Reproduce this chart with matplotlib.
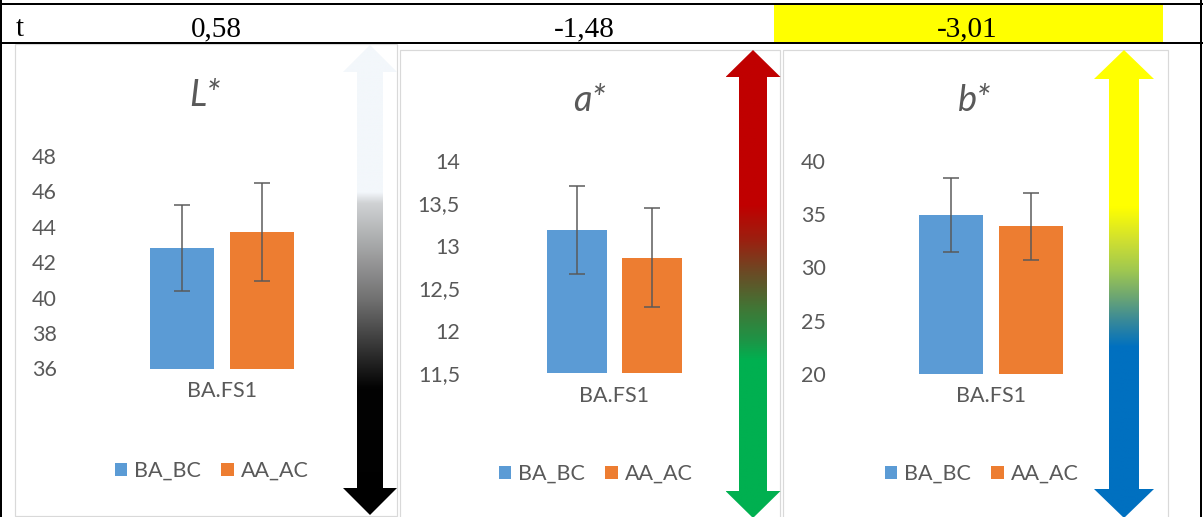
import numpy as np
import matplotlib
matplotlib.use("Agg")
import matplotlib.pyplot as plt
from matplotlib.patches import Polygon, Rectangle
from matplotlib.ticker import FuncFormatter
from matplotlib.colors import to_rgb

# ---- data -------------------------------------------------------------
t_label = "t"
t_values = ["0,58", "-1,48", "-3,01"]

category = ["BA.FS1"]
series = ["BA_BC", "AA_AC"]
series_colors = ["#5b9bd5", "#ed7d31"]

L_mean = [42.8, 43.7]
L_sd = [2.43, 2.78]
a_mean = [13.18, 12.86]
a_sd = [0.52, 0.58]
b_mean = [34.9, 33.85]
b_sd = [3.5, 3.15]

L_ticks = [36, 38, 40, 42, 44, 46, 48]
a_ticks = [11.5, 12, 12.5, 13, 13.5, 14]
b_ticks = [20, 25, 30, 35, 40]

# ---- layout (pixels) --------------------------------------------------
W, H, DPI = 1203, 517, 100
PT = 72.0 / DPI
TEXT = "#595959"
FS = 15.5
TFS = 26

plt.rcParams["font.family"] = ["Lato", "DejaVu Sans"]

panels = [
    dict(title="L*", mean=L_mean, sd=L_sd, ticks=L_ticks,
         box=(15, 44, 397, 516), ax=(61, 383, 156, 368.5),
         title_x=205, title_base=106, cat_base=396.7, legend=(211.5, 471),
         arrow=(370, 13, 27, 45, 72, 488, 515),
         stops=[(45, "#f3f7fb"), (192, "#f3f7fb"), (203, "#d0d2d4"),
                (300, "#707070"), (388, "#030303"), (515, "#000000")]),
    dict(title="a*", mean=a_mean, sd=a_sd, ticks=a_ticks,
         box=(400, 50, 780, 530), ax=(464, 764, 160.7, 373),
         title_x=589, title_base=111, cat_base=401.7, legend=(595.5, 474),
         arrow=(753, 14, 27.5, 50, 77, 491, 518),
         stops=[(50, "#c00000"), (205, "#c00000"), (240, "#9b2010"),
                (273, "#6a4b25"), (307, "#427535"), (340, "#1e9446"),
                (360, "#00b050"), (518, "#00b050")]),
    dict(title="b*", mean=b_mean, sd=b_sd, ticks=b_ticks,
         box=(783, 50, 1168, 530), ax=(830, 1152, 160.7, 374),
         title_x=975, title_base=111, cat_base=401.7, legend=(981.5, 474),
         arrow=(1124, 15, 30, 50, 79, 489, 518),
         stops=[(50, "#ffff00"), (207, "#ffff00"), (240, "#d0e030"),
                (270, "#a0c850"), (295, "#70a870"), (320, "#3a8a98"),
                (347, "#0070c0"), (518, "#0070c0")]),
]

fig = plt.figure(figsize=(W / DPI, H / DPI), dpi=DPI)
fig.patch.set_facecolor("white")

bg = fig.add_axes([0, 0, 1, 1])
bg.set_xlim(0, W)
bg.set_ylim(H, 0)
bg.axis("off")
bg.set_zorder(0)

# ---- table row with t statistics -------------------------------------
bg.add_patch(Rectangle((774, 5), 389, 37.5, facecolor="#ffff00",
                       edgecolor="none", zorder=1))
for y in (4, 43.3):
    bg.plot([0, W], [y, y], color="black", lw=2 * PT, zorder=3,
            solid_capstyle="butt")
for x in (1, 1201):
    bg.plot([x, x], [0, H], color="black", lw=2 * PT, zorder=3,
            solid_capstyle="butt")

serif = dict(family="Liberation Serif", fontsize=21, color="black",
             va="baseline", zorder=4)
bg.text(16, 36, t_label, ha="left", **serif)
for x, s in zip((216.5, 584, 967), t_values):
    bg.text(x, 36, s, ha="center", **serif)


def gradient_arrow(axis, spec, stops):
    cx, sw, hw, y0, y1, y2, y3 = spec
    verts = [(cx, y0), (cx + hw, y1), (cx + sw, y1), (cx + sw, y2),
             (cx + hw, y2), (cx, y3), (cx - hw, y2), (cx - sw, y2),
             (cx - sw, y1), (cx - hw, y1)]
    poly = Polygon(verts, closed=True, facecolor="none", edgecolor="none",
                   transform=axis.transData)
    axis.add_patch(poly)
    ys = np.linspace(y0, y3, 600)
    sy = [s[0] for s in stops]
    rgb = np.array([to_rgb(s[1]) for s in stops])
    cols = np.stack([np.interp(ys, sy, rgb[:, k]) for k in range(3)], axis=-1)
    img = cols[:, None, :]
    im = axis.imshow(img, extent=(cx - hw, cx + hw, y3, y0), origin="upper",
                     aspect="auto", interpolation="bilinear", zorder=2)
    im.set_clip_path(poly)


fmt = FuncFormatter(lambda v, p: f"{v:g}".replace(".", ","))
xpos = [-0.125, 0.125]
bar_w = 0.2

for p in panels:
    x0, yt, x1, yb = p["box"]
    bg.add_patch(Rectangle((x0, yt), x1 - x0, yb - yt, facecolor="white",
                           edgecolor="#d9d9d9", lw=1.2 * PT, zorder=1.5))
    gradient_arrow(bg, p["arrow"], p["stops"])

    l, r, t, b = p["ax"]
    ax = fig.add_axes([l / W, 1 - b / H, (r - l) / W, (b - t) / H])
    ax.set_zorder(5)
    ax.patch.set_alpha(0)
    for i, name in enumerate(series):
        ax.bar(xpos[i], p["mean"][i], bar_w, color=series_colors[i],
               yerr=p["sd"][i], capsize=5.8, label=name,
               error_kw=dict(ecolor=TEXT, elinewidth=1.5 * PT,
                             capthick=1.5 * PT))
    ax.set_xlim(-0.5, 0.5)
    ax.set_ylim(p["ticks"][0], p["ticks"][-1])
    ax.set_yticks(p["ticks"])
    ax.yaxis.set_major_formatter(fmt)
    ax.tick_params(axis="y", length=0, pad=4 * PT, labelsize=FS,
                   labelcolor=TEXT)
    ax.set_xticks([])
    for sp in ax.spines.values():
        sp.set_visible(False)

    ax.annotate(category[0], xy=(0, 0), xycoords=("data", "axes fraction"),
                xytext=(0, -(p["cat_base"] - b) * PT),
                textcoords="offset points", ha="center", va="baseline",
                fontsize=FS, color=TEXT)
    ax.set_title(p["title"], x=(p["title_x"] - l) / (r - l),
                 pad=(t - p["title_base"]) * PT, fontsize=TFS,
                 fontstyle="italic", color=TEXT)
    lx, ly = p["legend"]
    ax.legend(loc="center", bbox_to_anchor=(lx / W, 1 - ly / H),
              bbox_transform=fig.transFigure, ncol=2, frameon=False,
              handlelength=0.6, handleheight=0.6, handletextpad=0.3,
              columnspacing=0.95, fontsize=FS, labelcolor=TEXT)

fig.savefig("out.png", dpi=DPI)
